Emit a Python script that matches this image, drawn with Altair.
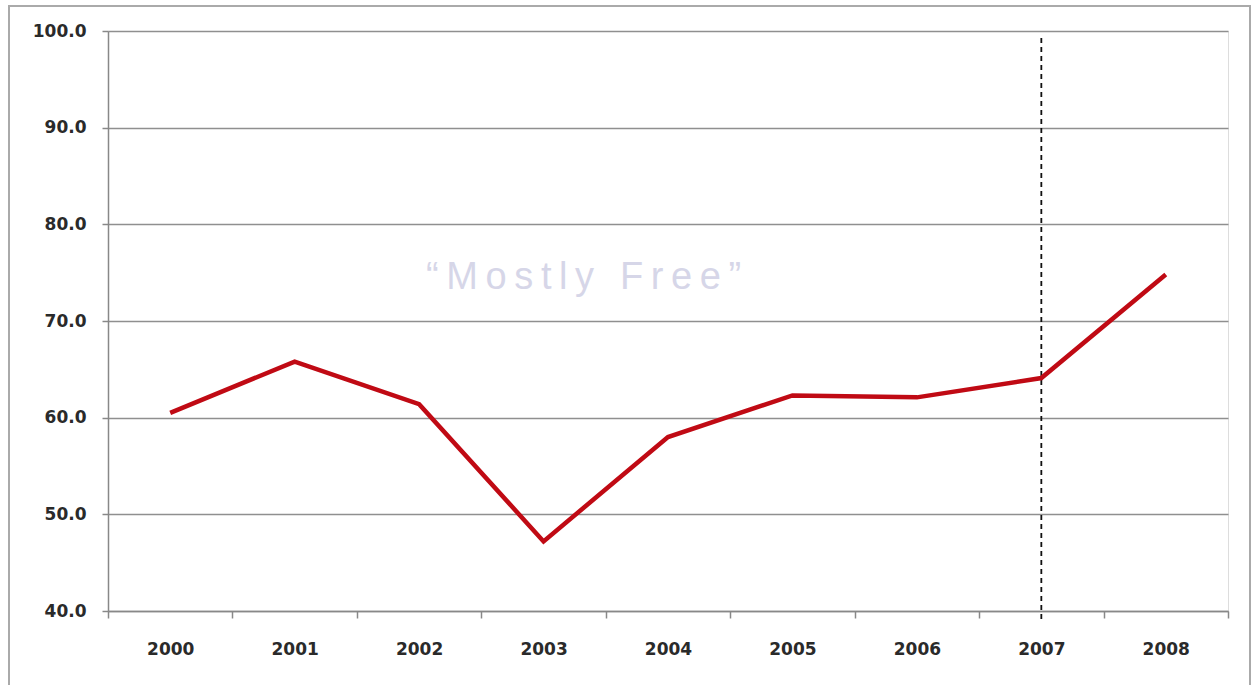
import altair as alt
import pandas as pd

years = ["2000", "2001", "2002", "2003", "2004", "2005", "2006", "2007", "2008"]
scores = [60.5, 65.8, 61.4, 47.2, 58.0, 62.3, 62.1, 64.1, 74.8]
marker_year = ["2007"]
annotation = ["\u201c\u2009M\u2009o\u2009s\u2009t\u2009l\u2009y\u2009 \u2009F\u2009r\u2009e\u2009e\u2009\u201d"]
annotation_pos = [74.4]
annotation_x = ["2003"]

df = pd.DataFrame({"year": years, "score": scores})
mark_df = pd.DataFrame({"year": marker_year})
ann_df = pd.DataFrame({"text": annotation, "score": annotation_pos, "year": annotation_x})

W, H = 1120, 580
FONT = "DejaVu Sans"

xscale = alt.Scale(domain=years, paddingInner=0, paddingOuter=0)
yscale = alt.Scale(domain=[40, 100], nice=False, zero=False)

xaxis = alt.Axis(title=None, labelAngle=0, labelAlign="center", ticks=True, tickBand="extent", tickSize=7,
                 tickColor="#888888", tickWidth=1.5, domainColor="#888888", domainWidth=1.5,
                 labelFont=FONT, labelFontSize=17, labelFontWeight="bold", labelColor="#2a2a2a",
                 labelPadding=31, grid=False)
yaxis = alt.Axis(title=None, values=[40, 50, 60, 70, 80, 90, 100], format=".1f",
                 tickSize=6, tickColor="#888888", tickWidth=1.5, domainColor="#888888", domainWidth=1.5,
                 labelFont=FONT, labelFontSize=17, labelFontWeight="bold", labelColor="#2a2a2a",
                 labelPadding=16, grid=True, gridColor="#8f8f8f", gridWidth=1.5)

frame = alt.Chart(pd.DataFrame({"a": [0]})).mark_rect(
    fill=None, stroke="#aaaaaa", strokeWidth=2
).encode(x=alt.value(-99), x2=alt.value(1142), y=alt.value(-25), y2=alt.value(700))

line = alt.Chart(df).mark_line(color="#c00a14", strokeWidth=4.5).encode(
    x=alt.X("year:O", scale=xscale, axis=xaxis, sort=years),
    y=alt.Y("score:Q", scale=yscale, axis=yaxis),
)

vline = alt.Chart(mark_df).mark_rule(color="#111111", strokeWidth=1.8, strokeDash=[5, 4]).encode(
    x=alt.X("year:O", scale=xscale, sort=years),
    y=alt.value(7), y2=alt.value(588),
)

text = alt.Chart(ann_df).mark_text(
    font="Liberation Sans", fontSize=38, color="#d6d6e8", align="center", baseline="middle", dx=40
).encode(
    x=alt.X("year:O", scale=xscale, sort=years),
    y=alt.Y("score:Q", scale=yscale),
    text="text:N",
)

chart = alt.layer(frame, text, vline, line).properties(
    width=W, height=H,
    autosize=alt.AutoSizeParams(type="none"),
    padding={"left": 108, "top": 31, "right": 23, "bottom": 74},
).configure_view(stroke=None).configure(background="white")

chart.save("out.html", embed_options={"renderer": "svg", "actions": False})
